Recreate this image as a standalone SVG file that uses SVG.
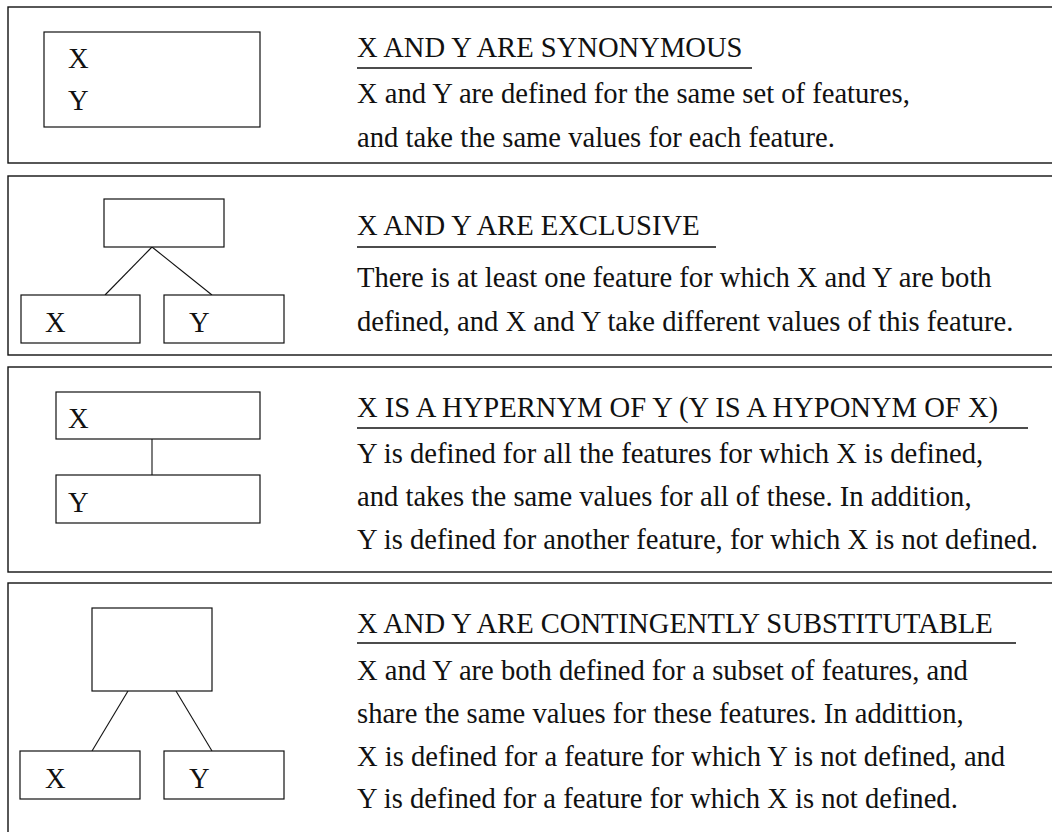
<svg xmlns="http://www.w3.org/2000/svg" width="1052" height="832" viewBox="0 0 1052 832">
  <style>
    .panel { fill: none; stroke: #111; stroke-width: 1.4; }
    .box { fill: #fff; stroke: #111; stroke-width: 1.2; }
    .link { fill: none; stroke: #111; stroke-width: 1.1; }
    .rule { stroke: #111; stroke-width: 1.3; }
    text { font-family: "Liberation Serif", "Times New Roman", serif; font-size: 28.6px; fill: #111; }
  </style>
  <rect width="1052" height="832" fill="#fff"/>

  <!-- panel frames (open to the right / bottom) -->
  <g id="frames">
    <rect class="panel" x="8" y="7" width="1060" height="156"/>
    <rect class="panel" x="8" y="176" width="1060" height="179"/>
    <rect class="panel" x="8" y="367" width="1060" height="205"/>
    <rect class="panel" x="8" y="583" width="1060" height="260"/>
  </g>

  <!-- connectors -->
  <g id="connectors">
    <line class="link" x1="152" y1="247" x2="105" y2="295"/>
    <line class="link" x1="152" y1="247" x2="212" y2="295"/>
    <line class="link" x1="152" y1="439" x2="152" y2="475"/>
    <line class="link" x1="128" y1="691" x2="92" y2="751"/>
    <line class="link" x1="176" y1="691" x2="212" y2="751"/>
  </g>

  <!-- synonymous -->
  <g id="syn-xy">
    <rect class="box" x="44" y="32" width="216" height="95"/>
    <text x="68" y="68">X</text>
    <text x="68" y="110">Y</text>
  </g>
  <g id="syn-text">
    <text x="357" y="57">X AND Y ARE SYNONYMOUS</text>
    <line class="rule" x1="357" y1="68" x2="752" y2="68"/>
    <text x="357" y="103">X and Y are defined for the same set of features,</text>
    <text x="357" y="147">and take the same values for each feature.</text>
  </g>

  <!-- exclusive -->
  <g id="exc-parent">
    <rect class="box" x="104" y="199" width="120" height="48"/>
  </g>
  <g id="exc-x">
    <rect class="box" x="21" y="295" width="119" height="48"/>
    <text x="45" y="332">X</text>
  </g>
  <g id="exc-y">
    <rect class="box" x="164" y="295" width="120" height="48"/>
    <text x="189" y="332">Y</text>
  </g>
  <g id="exc-text">
    <text x="357" y="235">X AND Y ARE EXCLUSIVE</text>
    <line class="rule" x1="357" y1="247" x2="716" y2="247"/>
    <text x="357" y="287">There is at least one feature for which X and Y are both</text>
    <text x="357" y="331">defined, and X and Y take different values of this feature.</text>
  </g>

  <!-- hypernym -->
  <g id="hyp-x">
    <rect class="box" x="56" y="392" width="204" height="47"/>
    <text x="68" y="428">X</text>
  </g>
  <g id="hyp-y">
    <rect class="box" x="56" y="475" width="204" height="48"/>
    <text x="68" y="512">Y</text>
  </g>
  <g id="hyp-text">
    <text x="357" y="417">X IS A HYPERNYM OF Y (Y IS A HYPONYM OF X)</text>
    <line class="rule" x1="357" y1="428" x2="1028" y2="428"/>
    <text x="357" y="463">Y is defined for all the features for which X is defined,</text>
    <text x="357" y="506">and takes the same values for all of these. In addition,</text>
    <text x="357" y="549">Y is defined for another feature, for which X is not defined.</text>
  </g>

  <!-- contingently substitutable -->
  <g id="con-parent">
    <rect class="box" x="92" y="608" width="120" height="83"/>
  </g>
  <g id="con-x">
    <rect class="box" x="20" y="751" width="120" height="48"/>
    <text x="45" y="788">X</text>
  </g>
  <g id="con-y">
    <rect class="box" x="164" y="751" width="120" height="48"/>
    <text x="189" y="788">Y</text>
  </g>
  <g id="con-text">
    <text x="357" y="633">X AND Y ARE CONTINGENTLY SUBSTITUTABLE</text>
    <line class="rule" x1="357" y1="643" x2="1016" y2="643"/>
    <text x="357" y="680">X and Y are both defined for a subset of features, and</text>
    <text x="357" y="723">share the same values for these features. In addittion,</text>
    <text x="357" y="766">X is defined for a feature for which Y is not defined, and</text>
    <text x="357" y="808">Y is defined for a feature for which X is not defined.</text>
  </g>
</svg>
